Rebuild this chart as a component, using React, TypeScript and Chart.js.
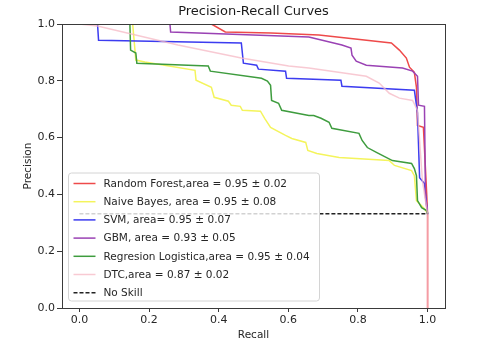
import React, { useEffect, useRef } from "react";
import { Chart, registerables } from "chart.js";

Chart.register(...registerables);

const chartTitle = "Precision-Recall Curves";
const xAxisTitle = "Recall";
const yAxisTitle = "Precision";

const seriesLabels = [
  "Random Forest,area = 0.95 ± 0.02",
  "Naive Bayes, area = 0.95 ± 0.08",
  "SVM, area= 0.95 ± 0.07",
  "GBM, area = 0.93 ± 0.05",
  "Regresion Logistica,area = 0.95 ± 0.04",
  "DTC,area = 0.87 ± 0.02",
  "No Skill",
];
const seriesColors = ["#ee4a4a", "#f4f45c", "#3c3cf0", "#9a42b4", "#3e9c3e", "rgba(246,184,196,0.75)", "#222222"];

const rfRecall = [0, 0.379, 0.419, 0.55, 0.688, 0.896, 0.919, 0.939, 0.948, 0.962, 0.968, 0.971, 0.988, 0.997, 1.0, 1.0];
const rfPrecision = [1, 1.0, 0.972, 0.968, 0.961, 0.933, 0.908, 0.88, 0.848, 0.83, 0.777, 0.643, 0.636, 0.413, 0.33, 0];

const nbRecall = [0, 0.153, 0.162, 0.188, 0.332, 0.335, 0.379, 0.387, 0.428, 0.436, 0.462, 0.468, 0.52, 0.532, 0.549, 0.592, 0.61, 0.65, 0.656, 0.682, 0.746, 0.89, 0.905, 0.954, 0.962, 0.968, 0.991, 1.0];
const nbPrecision = [1, 1, 0.873, 0.866, 0.837, 0.802, 0.777, 0.742, 0.728, 0.714, 0.71, 0.696, 0.693, 0.668, 0.636, 0.608, 0.597, 0.583, 0.555, 0.544, 0.53, 0.519, 0.502, 0.484, 0.466, 0.378, 0.35, 0.332];

const svmRecall = [0, 0.052, 0.055, 0.465, 0.471, 0.509, 0.514, 0.592, 0.595, 0.751, 0.754, 0.962, 0.968, 0.971, 0.977, 0.991, 1.0];
const svmPrecision = [1, 1, 0.943, 0.933, 0.862, 0.855, 0.841, 0.834, 0.809, 0.802, 0.781, 0.767, 0.714, 0.686, 0.459, 0.438, 0.33];

const gbmRecall = [0, 0.26, 0.262, 0.659, 0.754, 0.78, 0.783, 0.795, 0.824, 0.928, 0.957, 0.971, 0.974, 0.991, 0.994, 1.0];
const gbmPrecision = [1, 1, 0.972, 0.954, 0.926, 0.915, 0.89, 0.869, 0.855, 0.845, 0.834, 0.816, 0.714, 0.71, 0.389, 0.33];

const lrRecall = [0, 0.145, 0.147, 0.162, 0.165, 0.312, 0.37, 0.376, 0.523, 0.54, 0.549, 0.552, 0.572, 0.581, 0.659, 0.673, 0.694, 0.717, 0.725, 0.803, 0.812, 0.827, 0.853, 0.899, 0.954, 0.962, 0.968, 0.971, 0.983, 0.997, 1.0];
const lrPrecision = [1, 1, 0.908, 0.898, 0.862, 0.855, 0.852, 0.834, 0.809, 0.799, 0.784, 0.731, 0.721, 0.696, 0.678, 0.678, 0.668, 0.654, 0.633, 0.615, 0.59, 0.565, 0.548, 0.519, 0.509, 0.491, 0.466, 0.378, 0.353, 0.343, 0.332];

const dtcRecall = [0, 0.052, 0.283, 0.465, 0.601, 0.659, 0.824, 0.861, 0.89, 0.919, 0.957, 0.971, 0.985, 1.0, 1.0];
const dtcPrecision = [1, 0.993, 0.926, 0.88, 0.852, 0.845, 0.816, 0.792, 0.756, 0.739, 0.731, 0.696, 0.45, 0.33, 0];

const noSkillRecall = [0, 1];
const noSkillPrecision = [0.332, 0.332];

const tickValues = [0, 0.2, 0.4, 0.6, 0.8, 1.0];
const tickLabels = ["0.0", "0.2", "0.4", "0.6", "0.8", "1.0"];

const FONT = "'DejaVu Sans', sans-serif";
const TEXT = "#262626";

const pairs = (xs: number[], ys: number[]) => xs.map((x, i) => ({ x, y: ys[i] }));

const frameAndLegend = {
  id: "frameAndLegend",
  afterDatasetsDraw(chart: any) {
    const { ctx, chartArea: a } = chart;
    ctx.save();
    // title centred over the plot area
    ctx.font = `13px ${FONT}`;
    ctx.fillStyle = "#1a1a1a";
    ctx.textAlign = "center";
    ctx.textBaseline = "middle";
    ctx.fillText(chartTitle, (a.left + a.right) / 2, 12);
    // legend box
    const bx = a.left + 6.5;
    const bw = 251;
    const bh = 128;
    const by = a.bottom - 7 - bh;
    ctx.beginPath();
    if ((ctx as any).roundRect) (ctx as any).roundRect(bx, by, bw, bh, 3);
    else ctx.rect(bx, by, bw, bh);
    ctx.fillStyle = "rgba(255,255,255,0.8)";
    ctx.fill();
    ctx.strokeStyle = "#d4d4d4";
    ctx.lineWidth = 1;
    ctx.stroke();
    const ds = chart.data.datasets;
    ctx.font = `10.5px ${FONT}`;
    ctx.textBaseline = "middle";
    ctx.textAlign = "left";
    for (let i = 0; i < ds.length; i++) {
      const cy = by + 10.5 + i * 18.2;
      ctx.beginPath();
      ctx.setLineDash(ds[i].borderDash || []);
      ctx.strokeStyle = ds[i].borderColor;
      ctx.lineWidth = 1.5;
      ctx.moveTo(bx + 5, cy);
      ctx.lineTo(bx + 27, cy);
      ctx.stroke();
      ctx.setLineDash([]);
      ctx.fillStyle = TEXT;
      ctx.fillText(ds[i].label, bx + 35, cy + 0.5);
    }
    // frame
    ctx.strokeStyle = "#3a3a3a";
    ctx.lineWidth = 1;
    ctx.strokeRect(Math.round(a.left) + 0.5, Math.round(a.top) + 0.5, Math.round(a.right - a.left), Math.round(a.bottom - a.top));
    ctx.restore();
  },
};

export default function App() {
  const ref = useRef<HTMLCanvasElement | null>(null);
  useEffect(() => {
    document.body.style.margin = "0";
    const recalls = [rfRecall, nbRecall, svmRecall, gbmRecall, lrRecall, dtcRecall, noSkillRecall];
    const precisions = [rfPrecision, nbPrecision, svmPrecision, gbmPrecision, lrPrecision, dtcPrecision, noSkillPrecision];
    const datasets = seriesLabels.map((label, i) => ({
      label,
      data: pairs(recalls[i], precisions[i]),
      borderColor: seriesColors[i],
      backgroundColor: seriesColors[i],
      borderWidth: 1.5,
      borderDash: i === 6 ? [4, 2] : [],
      pointRadius: 0,
      tension: 0,
      fill: false,
      order: seriesLabels.length - 1 - i,
    }));
    const chart = new Chart(ref.current as HTMLCanvasElement, {
      type: "line",
      data: { datasets },
      options: {
        animation: false,
        responsive: true,
        maintainAspectRatio: false,
        layout: { padding: { left: 0, right: 51, top: 24, bottom: 0 } },
        plugins: {
          legend: { display: false },
          tooltip: { enabled: false },
          title: { display: false },
        },
        scales: {
          x: {
            type: "linear",
            min: -0.05,
            max: 1.05,
            afterBuildTicks: (s: any) => {
              s.ticks = tickValues.map((v) => ({ value: v }));
            },
            afterFit: (s: any) => {
              s.height = 42;
            },
            ticks: {
              autoSkip: false,
              maxRotation: 0,
              padding: 2,
              color: TEXT,
              font: { family: FONT, size: 11 },
              callback: (_v: any, i: number) => tickLabels[i],
            },
            grid: { drawOnChartArea: false, drawTicks: true, tickLength: 4, color: "#3a3a3a" },
            border: { display: false },
            title: {
              display: true,
              text: xAxisTitle,
              color: TEXT,
              font: { family: FONT, size: 10.5 },
              padding: { top: 0, bottom: 8.4 },
            },
          },
          y: {
            type: "linear",
            min: 0,
            max: 1,
            afterBuildTicks: (s: any) => {
              s.ticks = tickValues.map((v) => ({ value: v }));
            },
            afterFit: (s: any) => {
              s.width = 62;
            },
            ticks: {
              autoSkip: false,
              padding: 2,
              color: TEXT,
              font: { family: FONT, size: 11 },
              callback: (_v: any, i: number) => tickLabels[i],
            },
            grid: { drawOnChartArea: false, drawTicks: true, tickLength: 5, color: "#3a3a3a" },
            border: { display: false },
            title: {
              display: true,
              text: yAxisTitle,
              color: TEXT,
              font: { family: FONT, size: 10.5 },
              padding: { top: 22.4, bottom: 0 },
            },
          },
        },
      } as any,
      plugins: [frameAndLegend],
    });
    return () => chart.destroy();
  }, []);
  return (
    <div style={{ width: 496, height: 350, position: "relative" }}>
      <canvas ref={ref} />
    </div>
  );
}
